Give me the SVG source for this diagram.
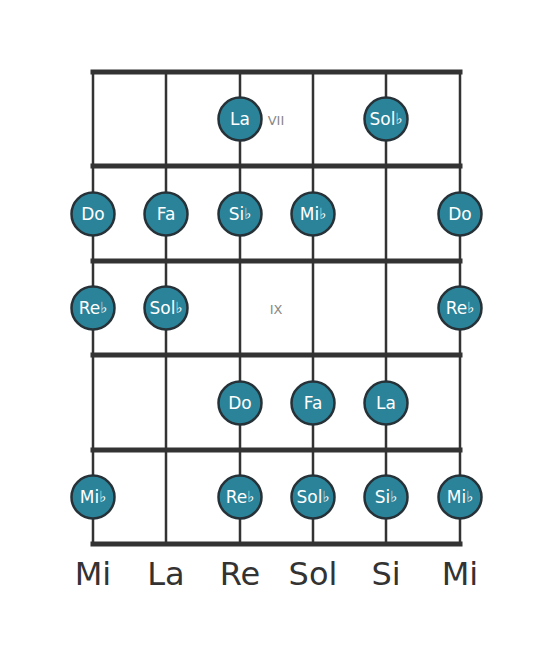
<svg xmlns="http://www.w3.org/2000/svg" width="553" height="656" viewBox="0 0 553 656">
<style>
.str{stroke:#333;stroke-width:2.5;fill:none}
.fret{stroke:#333;stroke-width:5;fill:none;stroke-linecap:square}
.n circle{fill:#2a8399;stroke:#263238;stroke-width:2.5}
.n text{fill:#fff;font-family:"DejaVu Sans",sans-serif;font-size:17px;text-anchor:middle;dominant-baseline:central}
.fr{fill:#888;font-family:"DejaVu Sans",sans-serif;font-size:13px;text-anchor:middle;dominant-baseline:central}
.lab{fill:#333;font-family:"DejaVu Sans",sans-serif;font-size:32px;text-anchor:middle}
.fl{font-size:15px}
</style>
<rect width="553" height="656" fill="#fff"/>
<g id="connectors">
<line class="str" x1="93" y1="72" x2="93" y2="544"/>
<line class="str" x1="166" y1="72" x2="166" y2="544"/>
<line class="str" x1="240" y1="72" x2="240" y2="544"/>
<line class="str" x1="313" y1="72" x2="313" y2="544"/>
<line class="str" x1="386" y1="72" x2="386" y2="544"/>
<line class="str" x1="460" y1="72" x2="460" y2="544"/>
<line class="fret" x1="93" y1="72" x2="460" y2="72"/>
<line class="fret" x1="93" y1="166" x2="460" y2="166"/>
<line class="fret" x1="93" y1="261" x2="460" y2="261"/>
<line class="fret" x1="93" y1="355" x2="460" y2="355"/>
<line class="fret" x1="93" y1="450" x2="460" y2="450"/>
<line class="fret" x1="93" y1="544" x2="460" y2="544"/>
</g>
<text class="fr" x="276" y="120">VII</text>
<text class="fr" x="276" y="309">IX</text>
<g id="n1" class="n"><circle cx="240" cy="119" r="21.5"/><text x="240" y="119">La</text></g>
<g id="n2" class="n"><circle cx="386" cy="119" r="21.5"/><text x="386" y="119">Sol<tspan class="fl">♭</tspan></text></g>
<g id="n3" class="n"><circle cx="93" cy="214" r="21.5"/><text x="93" y="214">Do</text></g>
<g id="n4" class="n"><circle cx="166" cy="214" r="21.5"/><text x="166" y="214">Fa</text></g>
<g id="n5" class="n"><circle cx="240" cy="214" r="21.5"/><text x="240" y="214">Si<tspan class="fl">♭</tspan></text></g>
<g id="n6" class="n"><circle cx="313" cy="214" r="21.5"/><text x="313" y="214">Mi<tspan class="fl">♭</tspan></text></g>
<g id="n7" class="n"><circle cx="460" cy="214" r="21.5"/><text x="460" y="214">Do</text></g>
<g id="n8" class="n"><circle cx="93" cy="308" r="21.5"/><text x="93" y="308">Re<tspan class="fl">♭</tspan></text></g>
<g id="n9" class="n"><circle cx="166" cy="308" r="21.5"/><text x="166" y="308">Sol<tspan class="fl">♭</tspan></text></g>
<g id="n10" class="n"><circle cx="460" cy="308" r="21.5"/><text x="460" y="308">Re<tspan class="fl">♭</tspan></text></g>
<g id="n11" class="n"><circle cx="240" cy="403" r="21.5"/><text x="240" y="403">Do</text></g>
<g id="n12" class="n"><circle cx="313" cy="403" r="21.5"/><text x="313" y="403">Fa</text></g>
<g id="n13" class="n"><circle cx="386" cy="403" r="21.5"/><text x="386" y="403">La</text></g>
<g id="n14" class="n"><circle cx="93" cy="497" r="21.5"/><text x="93" y="497">Mi<tspan class="fl">♭</tspan></text></g>
<g id="n15" class="n"><circle cx="240" cy="497" r="21.5"/><text x="240" y="497">Re<tspan class="fl">♭</tspan></text></g>
<g id="n16" class="n"><circle cx="313" cy="497" r="21.5"/><text x="313" y="497">Sol<tspan class="fl">♭</tspan></text></g>
<g id="n17" class="n"><circle cx="386" cy="497" r="21.5"/><text x="386" y="497">Si<tspan class="fl">♭</tspan></text></g>
<g id="n18" class="n"><circle cx="460" cy="497" r="21.5"/><text x="460" y="497">Mi<tspan class="fl">♭</tspan></text></g>
<g id="labels">
<text class="lab" x="93" y="585">Mi</text>
<text class="lab" x="166" y="585">La</text>
<text class="lab" x="240" y="585">Re</text>
<text class="lab" x="313" y="585">Sol</text>
<text class="lab" x="386" y="585">Si</text>
<text class="lab" x="460" y="585">Mi</text>
</g>
</svg>
